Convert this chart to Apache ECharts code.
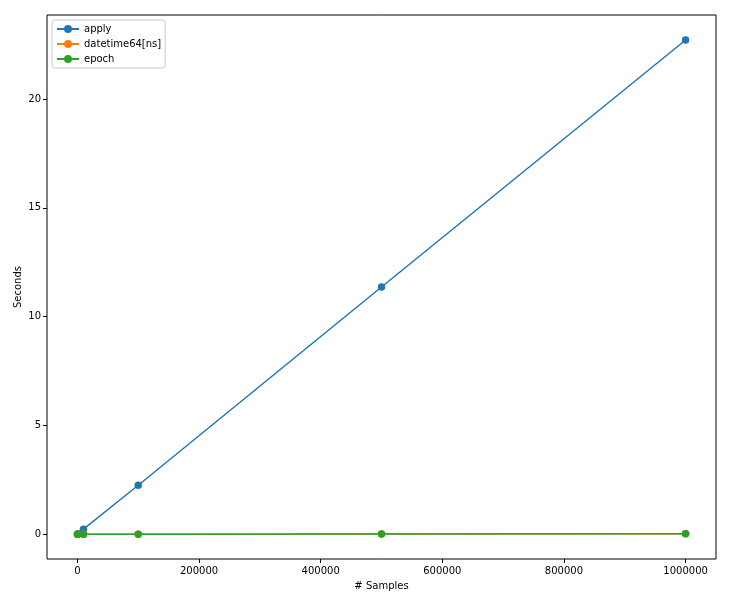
<!DOCTYPE html>
<html>
<head>
<meta charset="utf-8">
<script src="https://cdn.jsdelivr.net/npm/echarts@6/dist/echarts.min.js"></script>
<style>
  html, body { margin: 0; padding: 0; background: #fff; }
  #chart { width: 730px; height: 596px; }
</style>
</head>
<body>
<div id="chart"></div>
<script>
// sample sizes and timings (seconds)
const samples = [100, 1000, 10000, 100000, 500000, 1000000]
const applyTimes = [0.002, 0.022, 0.23, 2.25, 11.36, 22.71]
const datetimeTimes = [0.0002, 0.0003, 0.0008, 0.003, 0.012, 0.024]
const epochTimes = [0.0002, 0.0003, 0.0008, 0.003, 0.012, 0.024]
const xTicks = [0, 200000, 400000, 600000, 800000, 1000000]
const yTicks = [0, 5, 10, 15, 20]

const colors = { apply: '#1f77b4', 'datetime64[ns]': '#ff7f0e', epoch: '#2ca02c' }
const font = 'DejaVu Sans'

function pairs(ys) {
  return samples.map((x, i) => [x, ys[i]])
}

function makeSeries(name, ys) {
  return {
    name: name,
    type: 'line',
    data: pairs(ys),
    color: colors[name],
    symbol: 'circle',
    symbolSize: 7.5,
    showSymbol: true,
    lineStyle: { width: 1.5 },
    emphasis: { disabled: true },
    animation: false,
  }
}

let mychart = echarts.init(document.getElementById('chart'))
let option = {
  animation: false,
  grid: {
    left: 47,
    right: 14,
    top: 15,
    bottom: 37,
    outerBoundsMode: 'none',
    containLabel: false,
    show: true,
    borderColor: '#000',
    borderWidth: 1,
  },
  legend: {
    orient: 'vertical',
    left: 52,
    top: 20,
    padding: [4, 4, 4, 4],
    itemWidth: 22,
    itemHeight: 10,
    itemGap: 5,
    backgroundColor: '#fff',
    borderColor: '#ccc',
    borderWidth: 1,
    borderRadius: 3,
    textStyle: { fontFamily: font, fontSize: 10, color: '#000' },
    data: ['apply', 'datetime64[ns]', 'epoch'],
  },
  xAxis: {
    type: 'value',
    min: -50000,
    max: 1050000,
    name: '# Samples',
    nameLocation: 'middle',
    nameGap: 22,
    nameMoveOverlap: false,
    nameTextStyle: { fontFamily: font, fontSize: 10, color: '#000' },
    axisLine: { show: false, onZero: false },
    axisTick: { show: true, inside: false, length: 4, lineStyle: { color: '#000' }, customValues: xTicks },
    axisLabel: {
      fontFamily: font, fontSize: 10, color: '#000', margin: 7, customValues: xTicks,
      formatter: (v) => String(v),
    },
    splitLine: { show: false },
  },
  yAxis: {
    type: 'value',
    min: -1.14,
    max: 23.86,
    name: 'Seconds',
    nameLocation: 'middle',
    nameGap: 24,
    nameMoveOverlap: false,
    nameTextStyle: { fontFamily: font, fontSize: 10, color: '#000' },
    axisLine: { show: false, onZero: false },
    axisTick: { show: true, inside: false, length: 4, lineStyle: { color: '#000' }, customValues: yTicks },
    axisLabel: { fontFamily: font, fontSize: 10, color: '#000', margin: 6, customValues: yTicks },
    splitLine: { show: false },
  },
  series: [
    makeSeries('apply', applyTimes),
    makeSeries('datetime64[ns]', datetimeTimes),
    makeSeries('epoch', epochTimes),
  ],
}
mychart.setOption(option, true)
</script>
</body>
</html>
